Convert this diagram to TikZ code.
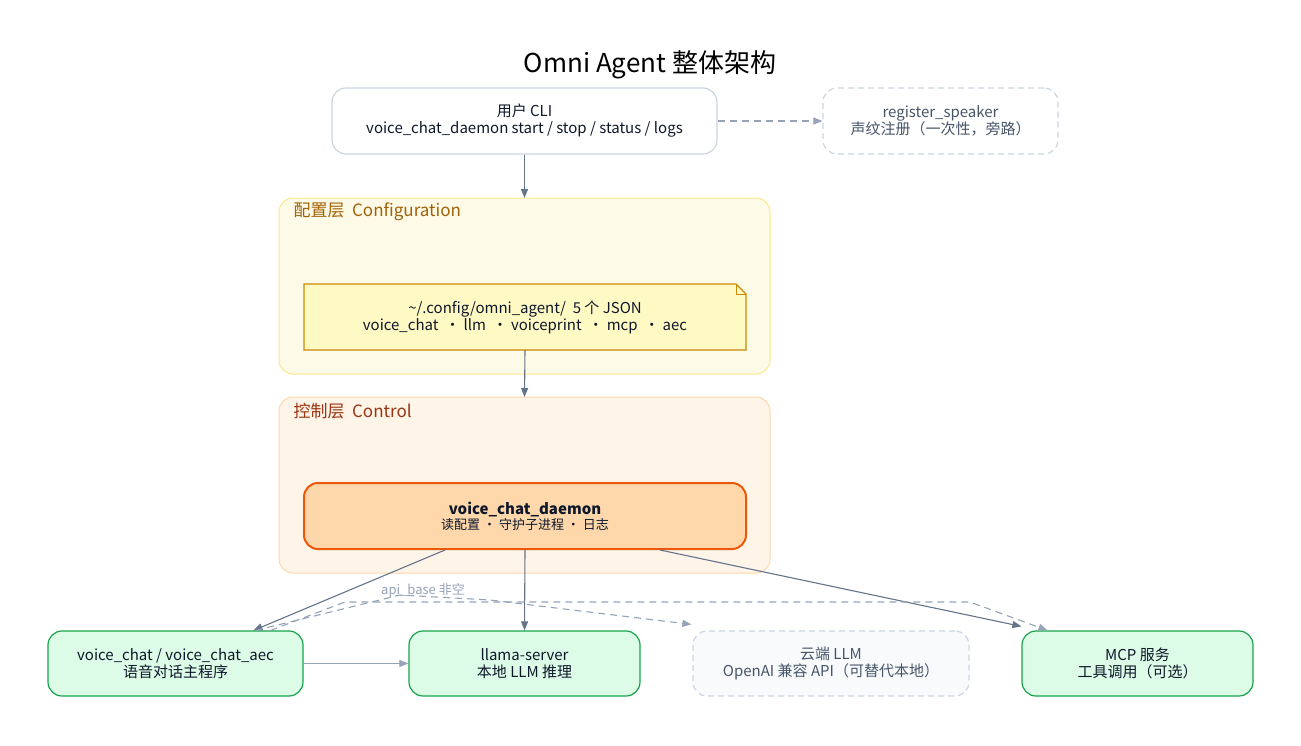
\documentclass[tikz,border=0pt]{standalone}
\usepackage{fontspec}
\setmainfont{Noto Sans CJK SC}
\usetikzlibrary{arrows.meta,shapes.misc}
\definecolor{arr}{HTML}{64748B}
\definecolor{darr}{HTML}{94A3B8}
\definecolor{grn}{HTML}{16A34A}
\definecolor{grnf}{HTML}{DCFCE7}
\definecolor{slate}{HTML}{CBD5E1}
\definecolor{slt}{HTML}{475569}
\definecolor{cfgf}{HTML}{FEFAE8}
\definecolor{cfgd}{HTML}{FDE68A}
\definecolor{cfgt}{HTML}{A16207}
\definecolor{ctlf}{HTML}{FFF4E8}
\definecolor{ctld}{HTML}{FED7AA}
\definecolor{ctlt}{HTML}{9A3412}
\definecolor{notef}{HTML}{FFF9C4}
\definecolor{noted}{HTML}{CA8A04}
\definecolor{dmnf}{HTML}{FED7AA}
\definecolor{dmnd}{HTML}{EA580C}
\definecolor{cloudf}{HTML}{F8FAFC}
\definecolor{ink}{HTML}{0F172A}
\begin{document}
\begin{tikzpicture}[x=1pt,y=-1pt,
 box/.style={draw,rounded corners=14pt,line width=1.2pt,align=center,font=\fontsize{15}{17}\selectfont,inner sep=0pt,text=ink},
 green/.style={box,fill=grnf,draw=grn},
 a/.style={draw=arr,line width=1.1pt,-{Triangle[length=9pt,width=7pt]}},
 da/.style={draw=darr,line width=1.1pt,dash pattern=on 7pt off 5pt,-{Triangle[length=9pt,width=7pt]}}]
\useasboundingbox (0,0) rectangle (1301,745);
\node (title) at (650,65) {\fontsize{26}{30}\selectfont Omni Agent 整体架构};
\draw[rounded corners=14pt,fill=cfgf,draw=cfgd,line width=1pt] (279,198) rectangle (770,374);
\node[anchor=west,text=cfgt,font=\fontsize{17}{19}\selectfont] (cfgl) at (290,212) {配置层\ \ Configuration};
\draw[rounded corners=14pt,fill=ctlf,draw=ctld,line width=1pt] (279,397) rectangle (770,573);
\node[anchor=west,text=ctlt,font=\fontsize{17}{19}\selectfont] (ctll) at (290,411) {控制层\ \ Control};
\node[box,fill=white,draw=slate,minimum width=385pt,minimum height=66pt] (cli) at (524.5,121) {用户 CLI\\voice\_chat\_daemon start / stop / status / logs};
\node[box,fill=white,dash pattern=on 6pt off 4pt,draw=slate,minimum width=235pt,minimum height=66pt,text=slt] (reg) at (940.5,121) {register\_speaker\\声纹注册（一次性，旁路）};
\draw[fill=notef,draw=noted,line width=1.2pt] (304,284) -- (736,284) -- (746,294) -- (746,350) -- (304,350) -- cycle;
\draw[noted,line width=1pt] (736,284) -- (736,294) -- (746,294);
\node[align=center,minimum width=442pt,minimum height=66pt,inner sep=0pt,font=\fontsize{15}{17}\selectfont,text=ink] (note) at (525,317) {\textasciitilde/.config/omni\_agent/\ \ 5 个 JSON\\voice\_chat \ ・ llm \ ・ voiceprint \ ・ mcp \ ・ aec};
\node[box,line width=2pt,fill=dmnf,draw=dmnd,minimum width=442pt,minimum height=66pt,font=\fontsize{13}{15}\selectfont] (dmn) at (525,516) {\textbf{\fontsize{15}{17}\selectfont voice\_chat\_daemon}\\读配置 ・ 守护子进程 ・ 日志};
\node[green,minimum width=255pt,minimum height=65pt] (vc) at (175.5,663.5) {voice\_chat / voice\_chat\_aec\\语音对话主程序};
\node[green,minimum width=231pt,minimum height=65pt] (ll) at (524.5,663.5) {llama-server\\本地 LLM 推理};
\node[box,dash pattern=on 6pt off 4pt,fill=cloudf,draw=slate,minimum width=276pt,minimum height=65pt,text=slt] (cl) at (831,663.5) {云端 LLM\\OpenAI 兼容 API（可替代本地）};
\node[green,minimum width=231pt,minimum height=65pt] (mcp) at (1137.5,663.5) {MCP 服务\\工具调用（可选）};
\draw[a] (cli.south) -- (524.5,198);
\draw[a] (note.south) -- (524.5,397);
\draw[da] (cli.east) -- (reg.west);
\draw[a] ([xshift=-80pt]dmn.south) -- ([xshift=78pt]vc.north);
\draw[a] (dmn.south) -- (ll.north);
\draw[a] ([xshift=135pt]dmn.south) -- ([yshift=4pt]mcp.north west);
\draw[da] ([xshift=80pt]vc.north) -- (400,595) -- (490,600) -- ([xshift=-1pt,yshift=6pt]cl.north west);
\draw[da] ([xshift=95pt]vc.north) -- (345,602) -- (970,602) -- ([xshift=26pt]mcp.north west);
\node[text=darr,font=\fontsize{13}{15}\selectfont] (lab) at (423,590) {api\_base 非空};
\draw[a,draw=darr] (vc.east) -- (ll.west);
\end{tikzpicture}
\end{document}
